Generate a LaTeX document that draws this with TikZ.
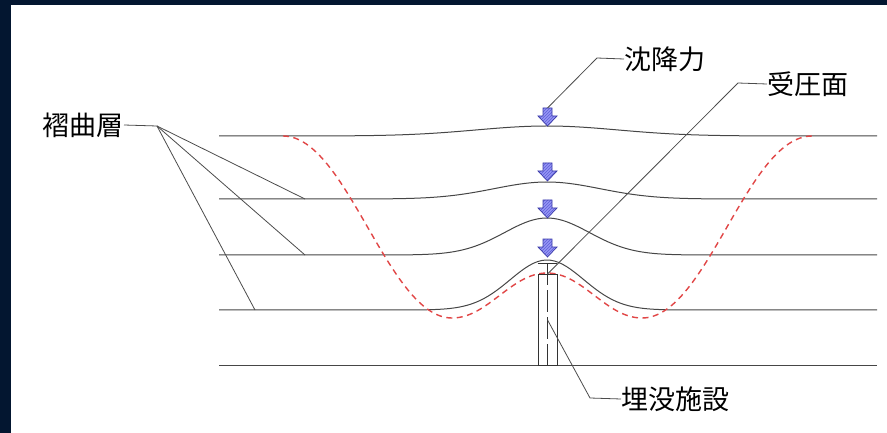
\documentclass[tikz,border=0pt]{standalone}
\usepackage{fontspec}
\newfontfamily\jpfont{Noto Sans CJK JP}
\usetikzlibrary{patterns}
\definecolor{frame}{RGB}{3,22,48}
\definecolor{layer}{RGB}{70,70,70}
\definecolor{foldred}{RGB}{225,70,70}
\definecolor{arrowfill}{RGB}{150,150,245}
\definecolor{arrowhatch}{RGB}{95,95,215}
\definecolor{arrowedge}{RGB}{60,60,170}
\begin{document}
\begin{tikzpicture}[x=1pt,y=-1pt,
  layerline/.style={draw=layer, line width=1pt},
  leader/.style={draw=black!70, line width=0.8pt},
  tag/.style={font=\jpfont\fontsize{27}{27}\selectfont, text=black, inner sep=0pt},
  fold/.style={draw=foldred, line width=1.4pt, dash pattern=on 6pt off 4.5pt},
  structure/.style={draw=black!80, line width=0.8pt},
  pics/sinkarrow/.style={code={
    \draw[arrowedge, line width=0.7pt, preaction={fill=arrowfill},
          pattern=north east lines, pattern color=arrowhatch]
      (-4.5,0) -- (4.5,0) -- (4.5,8) -- (9.5,8) -- (0,18) -- (-9.5,8) -- (-4.5,8) -- cycle;
  }},
]
% frame and background
\useasboundingbox (0,0) rectangle (887,433);
\fill[frame] (0,0) rectangle (887,433);
\fill[white] (11,5) rectangle (887,433);

% folded layers
\draw[layerline] plot[domain=219:877, samples=160, variable=\x]
  (\x, {136-10*exp(-min(9,((\x-547)/100)^2))});
\draw[layerline] plot[domain=219:877, samples=160, variable=\x]
  (\x, {199-17*exp(-min(9,((\x-547)/75)^2))});
\draw[layerline] plot[domain=219:877, samples=160, variable=\x]
  (\x, {255-37*exp(-min(9,((\x-547)/60)^2))});
\draw[layerline] plot[domain=219:877, samples=160, variable=\x]
  (\x, {310-50*exp(-min(9,((\x-547)/52)^2))});
\draw[layerline] (219,365) -- (877,365);

% fold envelope
\draw[fold] (283,136) .. controls (347,136) and (388,318) .. (452,318)
  .. controls (488,318) and (511,273) .. (547,273)
  .. controls (583,273) and (606,318) .. (642,318)
  .. controls (707,318) and (747,136) .. (812,136);

% buried structure
\node[structure, minimum width=19pt, minimum height=91pt, inner sep=0pt, anchor=north]
  (facility) at (547.5,274) {};
\draw[structure] ([yshift=11pt]facility.north west) -- ([yshift=11pt]facility.north east);
\draw[structure] (facility.north) -- ++(0,11);
\draw[structure, dash pattern=on 22pt off 5pt] ([yshift=11pt]facility.north) -- (facility.south);

% settlement forces
\pic at (547.5,108) {sinkarrow};
\pic at (547.5,163) {sinkarrow};
\pic at (547.5,200) {sinkarrow};
\pic at (547.5,239) {sinkarrow};
\coordinate (a1top) at (547.5,108);

% labels and leaders
\node[tag, anchor=west] (sink) at (624,59) {沈降力};
\coordinate (sinkbend) at (597,58);
\draw[leader] (sink.west) -- (sinkbend) -- (a1top);

\node[tag, anchor=west] (face) at (767,84) {受圧面};
\coordinate (facebend) at (738,83);
\draw[leader] (face.west) -- (facebend) -- (facility.north);

\node[tag, anchor=west] (buried) at (621,399) {埋没施設};
\coordinate (buriedbend) at (590,398);
\draw[leader] (facility.center) -- (buriedbend) -- (buried.west);

\node[tag, anchor=east] (layers) at (124,125) {褶曲層};
\coordinate (layerfan) at (157,126);
\coordinate (l2) at (305,199);
\coordinate (l3) at (305,255);
\coordinate (l4) at (255,310);
\draw[leader] (layers.east) -- (layerfan);
\draw[leader] (layerfan) -- (l2);
\draw[leader] (layerfan) -- (l3);
\draw[leader] (layerfan) -- (l4);
\end{tikzpicture}
\end{document}
